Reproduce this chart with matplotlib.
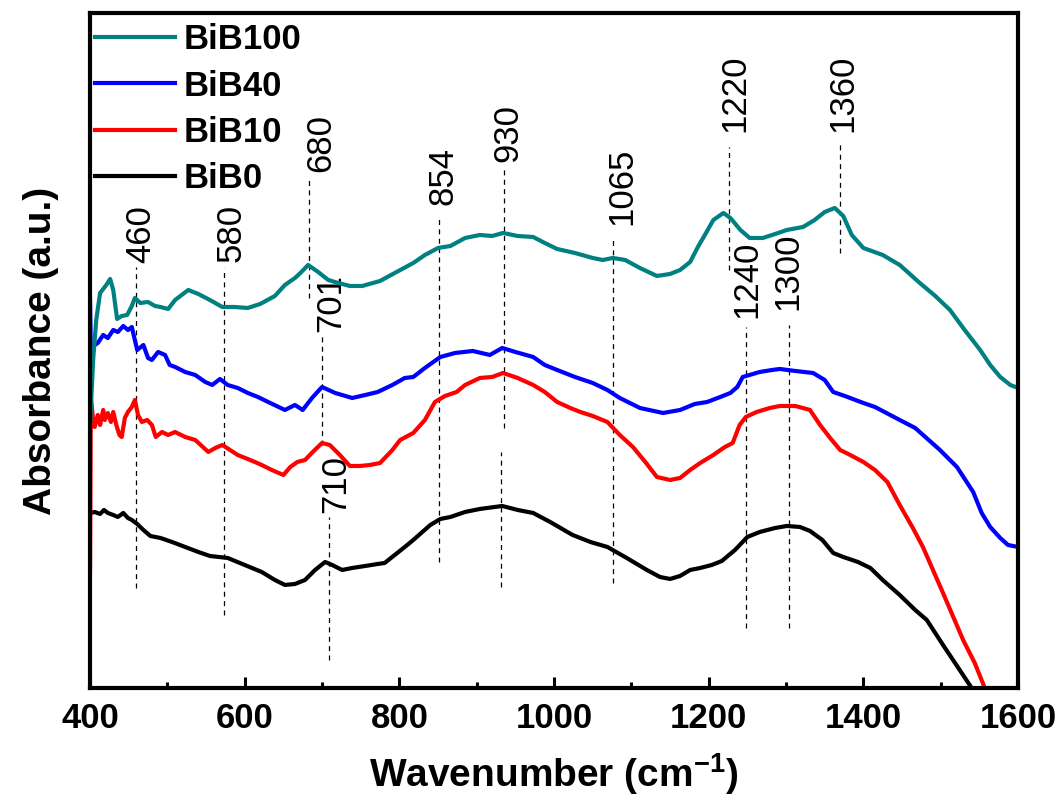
import matplotlib
matplotlib.use("Agg")
import matplotlib.pyplot as plt

# font setup (Arial-like, bold labels)
plt.rcParams['font.family'] = ['Liberation Sans', 'DejaVu Sans']
plt.rcParams['mathtext.fontset'] = 'custom'
plt.rcParams['mathtext.rm'] = 'Liberation Sans'
plt.rcParams['mathtext.bf'] = 'Liberation Sans:bold'

# ---- data (wavenumber in cm-1, absorbance in a.u., offset stacked) ----
wn_bib100 = [400, 404, 408, 413, 421, 426, 430, 435, 441, 448, 454, 458, 465, 475, 484, 491, 501, 510, 527, 540,
             555, 571, 587, 604, 620, 639, 652, 665, 672, 682, 695, 708, 721, 736, 752, 775, 794, 818, 833, 850,
             866, 885, 904, 920, 934, 953, 973, 988, 1004, 1027, 1050, 1063, 1076, 1092, 1111, 1133, 1150, 1163,
             1176, 1186, 1195, 1206, 1219, 1228, 1241, 1253, 1270, 1286, 1301, 1322, 1337, 1350, 1363, 1374,
             1385, 1400, 1425, 1447, 1473, 1493, 1512, 1531, 1551, 1564, 1577, 1590, 1600]
ab_bib100 = [263, 328, 368, 395, 403, 409, 398, 369, 372, 373, 382, 390, 385, 386, 382, 381, 379, 388, 398, 394,
             388, 381, 381, 380, 384, 392, 403, 410, 415, 423, 416, 408, 405, 402, 402, 407, 415, 425, 433, 440,
             442, 450, 453, 452, 455, 452, 451, 445, 439, 435, 430, 428, 430, 428, 420, 412, 414, 418,
             426, 441, 453, 468, 475, 470, 458, 450, 450, 454, 458, 461, 468, 476, 480, 472,
             453, 440, 433, 423, 405, 392, 378, 358, 338, 323, 311, 303, 300]

wn_bib40 = [400, 401, 406, 410, 417, 423, 430, 436, 443, 449, 454, 461, 469, 475, 480, 488, 497, 503, 510, 523,
            536, 549, 558, 568, 578, 591, 604, 617, 633, 652, 665, 675, 687, 700, 717, 739, 756, 772, 791, 807,
            818, 833, 853, 872, 895, 917, 933, 950, 973, 988, 1004, 1027, 1050, 1069, 1085, 1111, 1141, 1163,
            1182, 1198, 1215, 1228, 1237, 1244, 1266, 1282, 1292, 1312, 1335, 1350, 1361, 1376, 1400, 1415,
            1447, 1467, 1499, 1521, 1542, 1553, 1564, 1577, 1587, 1600]
ab_bib40 = [388, 336, 343, 345, 353, 350, 358, 356, 362, 358, 361, 338, 343, 330, 328, 336, 333, 323, 321, 316,
            313, 306, 303, 309, 303, 300, 295, 291, 285, 278, 283, 278, 290, 301, 295, 290, 293, 296, 303, 310,
            311, 320, 331, 335, 337, 333, 340, 336, 331, 323, 318, 311, 305, 298, 290, 280, 275, 278,
            284, 286, 291, 295, 301, 311, 316, 318, 319, 317, 315, 308, 296, 292, 285, 281,
            268, 260, 238, 221, 196, 175, 161, 150, 143, 141]

wn_bib10 = [400, 401, 404, 406, 410, 413, 417, 419, 423, 427, 430, 434, 438, 441, 445, 449, 454, 458, 462, 467,
            474, 480, 485, 493, 501, 510, 523, 536, 553, 562, 571, 581, 591, 607, 622, 635, 650, 659, 668, 678,
            688, 700, 710, 723, 736, 749, 762, 775, 791, 801, 818, 833, 846, 859, 874, 885, 904, 920, 934, 953,
            973, 988, 1004, 1021, 1034, 1050, 1069, 1085, 1102, 1118, 1133, 1150, 1163, 1176, 1189, 1206, 1221,
            1231, 1240, 1248, 1262, 1279, 1292, 1312, 1331, 1344, 1357, 1370, 1383, 1400, 1415, 1431, 1447,
            1464, 1477, 1503, 1529, 1544, 1557]
ab_bib10 = [116, 291, 268, 261, 273, 263, 278, 268, 275, 266, 276, 263, 253, 251, 270, 276, 281, 288, 273, 266,
            268, 263, 251, 256, 253, 256, 251, 248, 236, 240, 243, 238, 233, 228, 223, 218, 213, 221, 226, 228,
            236, 245, 243, 233, 222, 222, 223, 225, 238, 248, 255, 268, 286, 292, 296, 303, 310, 311, 315, 310,
            303, 296, 286, 280, 276, 272, 266, 253, 241, 226, 211, 208, 210, 218, 225, 233, 241,
            245, 263, 271, 276, 280, 282, 282, 278, 263, 250, 238, 233, 226, 218, 206, 183,
            160, 141, 95, 48, 25, 0]

wn_bib0 = [401, 406, 413, 418, 423, 430, 436, 443, 449, 454, 461, 469, 478, 491, 506, 523, 540, 555, 578, 600,
           622, 639, 652, 665, 678, 691, 704, 713, 726, 739, 756, 772, 781, 794, 807, 818, 840, 853, 866, 885,
           904, 933, 953, 973, 995, 1024, 1047, 1069, 1094, 1120, 1137, 1150, 1163, 1176, 1189, 1204, 1217,
           1234, 1250, 1266, 1286, 1301, 1318, 1331, 1347, 1361, 1374, 1393, 1409, 1425, 1447, 1467, 1482,
           1503, 1522, 1540]
ab_bib0 = [175, 176, 174, 178, 175, 173, 171, 175, 170, 168, 164, 158, 152, 150, 146, 141, 136, 132, 130, 123,
           116, 108, 103, 104, 108, 118, 126, 123, 118, 120, 122, 124, 125, 133, 141, 148, 163, 169, 171, 176,
           179, 182, 178, 175, 166, 153, 146, 141, 130, 118, 111, 109, 112, 118, 120, 123, 127,
           138, 151, 156, 160, 162, 161, 157, 148, 135, 131, 126, 120, 108, 93, 78, 68,
           43, 21, 0]

# ---- peak markers: label, line position, line extent, label anchor ----
peak_labels = ['460', '580', '680', '701', '710', '854', '930', '930', '1065', '1220', '1360', '1240', '1300']
peak_line_x = [459.5, 573, 683, 700, 709, 851, 935, 931.5, 1076, 1226, 1370, 1248, 1304]
peak_line_top = [421, 420, 508, 355, 171, 471, 520, 236, 448, 541, 545, 361, 363]
peak_line_bot = [100, 73, 390, 243, 28, 126, 260, 101, 105, 418, 435, 60, 60]
label_x = [463, 580, 695, 708, 715, 854, 937, None, 1085, 1231, 1370, 1247, 1300]
label_y = [425, 426, 516, 356, 175, 483, 526, None, 463, 556, 556, 370, 378]

names = ['BiB0', 'BiB10', 'BiB40', 'BiB100']
colors = ['black', '#ff0000', '#0000ff', '#008080']

fig, ax = plt.subplots(figsize=(10.63, 7.97), dpi=100)
fig.subplots_adjust(left=0.0847, right=0.9577, bottom=0.1368, top=0.9837)

# spectra (teal drawn last so it sits on top)
all_wn = [wn_bib0, wn_bib10, wn_bib40, wn_bib100]
all_ab = [ab_bib0, ab_bib10, ab_bib40, ab_bib100]
for wn, ab, name, col in zip(all_wn, all_ab, names, colors):
    ax.plot(wn, ab, color=col, lw=3, label=name, solid_joinstyle='round', zorder=2)

# dashed guide lines and peak labels
for i in range(len(peak_labels)):
    ax.vlines(peak_line_x[i], peak_line_bot[i], peak_line_top[i], colors='black',
              linestyles=(0, (4, 3.5)), linewidth=0.9, zorder=1)
    if label_x[i] is not None:
        ax.text(label_x[i] + 3, label_y[i], peak_labels[i], rotation=90, ha='center', va='bottom',
                fontsize=25, zorder=1)

ax.set_xlim(400, 1600)
ax.set_ylim(0, 675)
ax.set_xticks(range(400, 1601, 200))
ax.set_xticks(range(500, 1600, 200), minor=True)
ax.set_yticks([])
ax.tick_params(axis='x', which='major', direction='in', length=8, width=2.2, labelsize=25, pad=10)
ax.tick_params(axis='x', which='minor', direction='in', length=4.5, width=2.2)
for lbl in ax.get_xticklabels():
    lbl.set_fontweight('bold')
for sp in ax.spines.values():
    sp.set_linewidth(3)

ax.set_xlabel('Wavenumber (cm$\\mathbf{^{-1}}$)', fontsize=28, fontweight='bold', labelpad=12)
ax.set_ylabel('Absorbance (a.u.)', fontsize=28, fontweight='bold', labelpad=22)

# legend top-left, BiB100 first
handles, labels = ax.get_legend_handles_labels()
ax.legend(handles[::-1], labels[::-1], loc='upper left', bbox_to_anchor=(-0.0055, 1), frameon=False,
          prop={'weight': 'bold', 'size': 25}, handlelength=2.3, handletextpad=0.25,
          labelspacing=0.38, borderaxespad=0, borderpad=0.3)

fig.savefig('out.png', dpi=100)
